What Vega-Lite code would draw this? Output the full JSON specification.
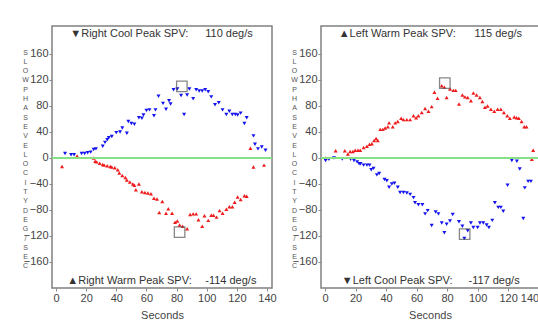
{
  "$schema": "https://vega.github.io/schema/vega-lite/v6.json",
  "background": "white",
  "padding": {"left": 20, "top": 25, "right": 0, "bottom": 0},
  "spacing": 12,
  "config": {
    "view": {"stroke": "#808080", "strokeWidth": 1.5},
    "axis": {
      "grid": false,
      "domain": false,
      "labelFont": "Liberation Sans",
      "labelFontSize": 11,
      "labelColor": "#444444",
      "labelPadding": 1,
      "tickColor": "#888888",
      "tickSize": 3,
      "titleFont": "Liberation Sans",
      "titleColor": "#444444",
      "titleFontWeight": "normal"
    },
    "axisX": {"titleFontSize": 11, "titlePadding": 6},
    "axisY": {
      "titleAngle": 0, "titleFontSize": 7, "titleLineHeight": 9.3,
      "titleX": -27, "titleY": 22, "titleAlign": "center", "titleBaseline": "top", "titleColor": "#555555"
    }
  },
  "datasets": {
    "notes": [
      {"panel": "R", "label": "▼Right Cool Peak SPV:", "value": "110 deg/s", "pos": "top"},
      {"panel": "R", "label": "▲Right Warm Peak SPV:", "value": "-114 deg/s", "pos": "bottom"},
      {"panel": "L", "label": "▲Left Warm Peak SPV:", "value": "115 deg/s", "pos": "top"},
      {"panel": "L", "label": "▼Left Cool Peak SPV:", "value": "-117 deg/s", "pos": "bottom"}
    ],
    "spv": [
      {"panel": "R", "series": "cool", "t": 6, "v": 7}, {"panel": "R", "series": "cool", "t": 10, "v": 5},
      {"panel": "R", "series": "cool", "t": 12, "v": 5}, {"panel": "R", "series": "cool", "t": 17, "v": 7},
      {"panel": "R", "series": "cool", "t": 19, "v": 7}, {"panel": "R", "series": "cool", "t": 21, "v": 8},
      {"panel": "R", "series": "cool", "t": 23, "v": 9}, {"panel": "R", "series": "cool", "t": 25, "v": 13},
      {"panel": "R", "series": "cool", "t": 26.5, "v": 14}, {"panel": "R", "series": "cool", "t": 31, "v": 18},
      {"panel": "R", "series": "cool", "t": 32.5, "v": 24}, {"panel": "R", "series": "cool", "t": 34, "v": 28},
      {"panel": "R", "series": "cool", "t": 35, "v": 31}, {"panel": "R", "series": "cool", "t": 37, "v": 33},
      {"panel": "R", "series": "cool", "t": 40, "v": 39}, {"panel": "R", "series": "cool", "t": 42.5, "v": 40},
      {"panel": "R", "series": "cool", "t": 44, "v": 46}, {"panel": "R", "series": "cool", "t": 47, "v": 38},
      {"panel": "R", "series": "cool", "t": 48, "v": 56}, {"panel": "R", "series": "cool", "t": 50, "v": 53},
      {"panel": "R", "series": "cool", "t": 52, "v": 52}, {"panel": "R", "series": "cool", "t": 55, "v": 62},
      {"panel": "R", "series": "cool", "t": 57, "v": 61}, {"panel": "R", "series": "cool", "t": 58, "v": 66},
      {"panel": "R", "series": "cool", "t": 60, "v": 73}, {"panel": "R", "series": "cool", "t": 62, "v": 74},
      {"panel": "R", "series": "cool", "t": 65, "v": 65}, {"panel": "R", "series": "cool", "t": 66, "v": 74},
      {"panel": "R", "series": "cool", "t": 68, "v": 95}, {"panel": "R", "series": "cool", "t": 71, "v": 84},
      {"panel": "R", "series": "cool", "t": 73, "v": 75}, {"panel": "R", "series": "cool", "t": 75, "v": 88},
      {"panel": "R", "series": "cool", "t": 76, "v": 83}, {"panel": "R", "series": "cool", "t": 78, "v": 105},
      {"panel": "R", "series": "cool", "t": 80.5, "v": 106}, {"panel": "R", "series": "cool", "t": 83, "v": 96},
      {"panel": "R", "series": "cool", "t": 85, "v": 67}, {"panel": "R", "series": "cool", "t": 87, "v": 97},
      {"panel": "R", "series": "cool", "t": 88.5, "v": 106}, {"panel": "R", "series": "cool", "t": 91, "v": 91},
      {"panel": "R", "series": "cool", "t": 93, "v": 105}, {"panel": "R", "series": "cool", "t": 95, "v": 103},
      {"panel": "R", "series": "cool", "t": 97, "v": 103}, {"panel": "R", "series": "cool", "t": 99, "v": 105},
      {"panel": "R", "series": "cool", "t": 101, "v": 102}, {"panel": "R", "series": "cool", "t": 103, "v": 94},
      {"panel": "R", "series": "cool", "t": 105.5, "v": 82}, {"panel": "R", "series": "cool", "t": 108, "v": 85},
      {"panel": "R", "series": "cool", "t": 110.5, "v": 74}, {"panel": "R", "series": "cool", "t": 113, "v": 67},
      {"panel": "R", "series": "cool", "t": 115, "v": 72}, {"panel": "R", "series": "cool", "t": 117, "v": 67},
      {"panel": "R", "series": "cool", "t": 119, "v": 67}, {"panel": "R", "series": "cool", "t": 120.5, "v": 66},
      {"panel": "R", "series": "cool", "t": 122.5, "v": 69}, {"panel": "R", "series": "cool", "t": 125, "v": 53},
      {"panel": "R", "series": "cool", "t": 126.5, "v": 62}, {"panel": "R", "series": "cool", "t": 131, "v": 34},
      {"panel": "R", "series": "cool", "t": 132, "v": 21}, {"panel": "R", "series": "cool", "t": 134, "v": 14},
      {"panel": "R", "series": "cool", "t": 136.5, "v": 17}, {"panel": "R", "series": "cool", "t": 139, "v": 12},

      {"panel": "R", "series": "warm", "t": 4, "v": -13}, {"panel": "R", "series": "warm", "t": 14, "v": 3},
      {"panel": "R", "series": "warm", "t": 25, "v": 0}, {"panel": "R", "series": "warm", "t": 26, "v": -5},
      {"panel": "R", "series": "warm", "t": 27, "v": -6}, {"panel": "R", "series": "warm", "t": 29, "v": -8},
      {"panel": "R", "series": "warm", "t": 31, "v": -10}, {"panel": "R", "series": "warm", "t": 32, "v": -11},
      {"panel": "R", "series": "warm", "t": 34, "v": -12}, {"panel": "R", "series": "warm", "t": 36, "v": -13},
      {"panel": "R", "series": "warm", "t": 37, "v": -14}, {"panel": "R", "series": "warm", "t": 39, "v": -15},
      {"panel": "R", "series": "warm", "t": 41, "v": -18}, {"panel": "R", "series": "warm", "t": 42, "v": -23},
      {"panel": "R", "series": "warm", "t": 44, "v": -27}, {"panel": "R", "series": "warm", "t": 46, "v": -30},
      {"panel": "R", "series": "warm", "t": 47, "v": -34}, {"panel": "R", "series": "warm", "t": 49, "v": -37},
      {"panel": "R", "series": "warm", "t": 51, "v": -40}, {"panel": "R", "series": "warm", "t": 52, "v": -42},
      {"panel": "R", "series": "warm", "t": 53, "v": -49}, {"panel": "R", "series": "warm", "t": 55, "v": -40},
      {"panel": "R", "series": "warm", "t": 57, "v": -52}, {"panel": "R", "series": "warm", "t": 59, "v": -53},
      {"panel": "R", "series": "warm", "t": 61, "v": -54}, {"panel": "R", "series": "warm", "t": 63, "v": -55},
      {"panel": "R", "series": "warm", "t": 65, "v": -62}, {"panel": "R", "series": "warm", "t": 67, "v": -63},
      {"panel": "R", "series": "warm", "t": 68.5, "v": -84}, {"panel": "R", "series": "warm", "t": 70.5, "v": -67},
      {"panel": "R", "series": "warm", "t": 73, "v": -85}, {"panel": "R", "series": "warm", "t": 74.5, "v": -78},
      {"panel": "R", "series": "warm", "t": 77, "v": -85}, {"panel": "R", "series": "warm", "t": 79, "v": -99},
      {"panel": "R", "series": "warm", "t": 80.5, "v": -97}, {"panel": "R", "series": "warm", "t": 82, "v": -103},
      {"panel": "R", "series": "warm", "t": 84, "v": -105}, {"panel": "R", "series": "warm", "t": 87, "v": -109},
      {"panel": "R", "series": "warm", "t": 89, "v": -87}, {"panel": "R", "series": "warm", "t": 91, "v": -86},
      {"panel": "R", "series": "warm", "t": 93, "v": -86}, {"panel": "R", "series": "warm", "t": 94.5, "v": -95},
      {"panel": "R", "series": "warm", "t": 97, "v": -105}, {"panel": "R", "series": "warm", "t": 98.5, "v": -89},
      {"panel": "R", "series": "warm", "t": 101, "v": -96}, {"panel": "R", "series": "warm", "t": 103, "v": -88},
      {"panel": "R", "series": "warm", "t": 104.5, "v": -88}, {"panel": "R", "series": "warm", "t": 106.5, "v": -91},
      {"panel": "R", "series": "warm", "t": 108.5, "v": -81}, {"panel": "R", "series": "warm", "t": 110.5, "v": -85},
      {"panel": "R", "series": "warm", "t": 113, "v": -79}, {"panel": "R", "series": "warm", "t": 115, "v": -75},
      {"panel": "R", "series": "warm", "t": 117, "v": -75}, {"panel": "R", "series": "warm", "t": 118.5, "v": -68},
      {"panel": "R", "series": "warm", "t": 120.5, "v": -60}, {"panel": "R", "series": "warm", "t": 122.5, "v": -64},
      {"panel": "R", "series": "warm", "t": 125, "v": -58}, {"panel": "R", "series": "warm", "t": 126.5, "v": -59},
      {"panel": "R", "series": "warm", "t": 129, "v": 15}, {"panel": "R", "series": "warm", "t": 131, "v": -14},
      {"panel": "R", "series": "warm", "t": 138, "v": -11},

      {"panel": "L", "series": "warm", "t": 0.5, "v": 0}, {"panel": "L", "series": "warm", "t": 7, "v": 11},
      {"panel": "L", "series": "warm", "t": 13, "v": 11}, {"panel": "L", "series": "warm", "t": 15, "v": 6},
      {"panel": "L", "series": "warm", "t": 16.5, "v": 10}, {"panel": "L", "series": "warm", "t": 18.3, "v": 10},
      {"panel": "L", "series": "warm", "t": 19.8, "v": 12}, {"panel": "L", "series": "warm", "t": 21.6, "v": 12},
      {"panel": "L", "series": "warm", "t": 23.1, "v": 12}, {"panel": "L", "series": "warm", "t": 25.3, "v": 16},
      {"panel": "L", "series": "warm", "t": 27.5, "v": 18}, {"panel": "L", "series": "warm", "t": 29.2, "v": 21},
      {"panel": "L", "series": "warm", "t": 30.7, "v": 22}, {"panel": "L", "series": "warm", "t": 32.2, "v": 27},
      {"panel": "L", "series": "warm", "t": 33.5, "v": 30}, {"panel": "L", "series": "warm", "t": 34.6, "v": 27},
      {"panel": "L", "series": "warm", "t": 36.2, "v": 44}, {"panel": "L", "series": "warm", "t": 37.9, "v": 44},
      {"panel": "L", "series": "warm", "t": 39.4, "v": 46}, {"panel": "L", "series": "warm", "t": 41.2, "v": 48},
      {"panel": "L", "series": "warm", "t": 42, "v": 54}, {"panel": "L", "series": "warm", "t": 44.4, "v": 48},
      {"panel": "L", "series": "warm", "t": 46, "v": 54}, {"panel": "L", "series": "warm", "t": 47.7, "v": 56},
      {"panel": "L", "series": "warm", "t": 49.9, "v": 61}, {"panel": "L", "series": "warm", "t": 51.4, "v": 59},
      {"panel": "L", "series": "warm", "t": 53.6, "v": 59}, {"panel": "L", "series": "warm", "t": 55.8, "v": 59},
      {"panel": "L", "series": "warm", "t": 58, "v": 65}, {"panel": "L", "series": "warm", "t": 59.7, "v": 62},
      {"panel": "L", "series": "warm", "t": 61.2, "v": 65}, {"panel": "L", "series": "warm", "t": 63.4, "v": 70},
      {"panel": "L", "series": "warm", "t": 65.6, "v": 76}, {"panel": "L", "series": "warm", "t": 67.8, "v": 72},
      {"panel": "L", "series": "warm", "t": 69.9, "v": 79}, {"panel": "L", "series": "warm", "t": 71.7, "v": 101},
      {"panel": "L", "series": "warm", "t": 73.7, "v": 92}, {"panel": "L", "series": "warm", "t": 76.5, "v": 111},
      {"panel": "L", "series": "warm", "t": 78.2, "v": 109}, {"panel": "L", "series": "warm", "t": 79.7, "v": 93},
      {"panel": "L", "series": "warm", "t": 81.9, "v": 106}, {"panel": "L", "series": "warm", "t": 84.1, "v": 104},
      {"panel": "L", "series": "warm", "t": 85.6, "v": 104}, {"panel": "L", "series": "warm", "t": 87.8, "v": 83},
      {"panel": "L", "series": "warm", "t": 90, "v": 97}, {"panel": "L", "series": "warm", "t": 91.7, "v": 94},
      {"panel": "L", "series": "warm", "t": 93.5, "v": 93}, {"panel": "L", "series": "warm", "t": 95.6, "v": 88},
      {"panel": "L", "series": "warm", "t": 97.2, "v": 100}, {"panel": "L", "series": "warm", "t": 99.3, "v": 97},
      {"panel": "L", "series": "warm", "t": 101.5, "v": 93}, {"panel": "L", "series": "warm", "t": 103.1, "v": 87},
      {"panel": "L", "series": "warm", "t": 104.8, "v": 78}, {"panel": "L", "series": "warm", "t": 106.5, "v": 80},
      {"panel": "L", "series": "warm", "t": 108.7, "v": 75}, {"panel": "L", "series": "warm", "t": 110.9, "v": 72},
      {"panel": "L", "series": "warm", "t": 113.1, "v": 75}, {"panel": "L", "series": "warm", "t": 115.2, "v": 75},
      {"panel": "L", "series": "warm", "t": 117.2, "v": 70}, {"panel": "L", "series": "warm", "t": 119.4, "v": 65},
      {"panel": "L", "series": "warm", "t": 121.1, "v": 61}, {"panel": "L", "series": "warm", "t": 124, "v": 63},
      {"panel": "L", "series": "warm", "t": 125.5, "v": 62}, {"panel": "L", "series": "warm", "t": 127, "v": 61},
      {"panel": "L", "series": "warm", "t": 128.8, "v": 56}, {"panel": "L", "series": "warm", "t": 130.5, "v": 48},
      {"panel": "L", "series": "warm", "t": 132, "v": 48}, {"panel": "L", "series": "warm", "t": 135.5, "v": -2},
      {"panel": "L", "series": "warm", "t": 136.4, "v": 12},

      {"panel": "L", "series": "cool", "t": 0.4, "v": -4}, {"panel": "L", "series": "cool", "t": 2.6, "v": -2},
      {"panel": "L", "series": "cool", "t": 5.9, "v": 0}, {"panel": "L", "series": "cool", "t": 11.3, "v": -1.5},
      {"panel": "L", "series": "cool", "t": 16.8, "v": -2}, {"panel": "L", "series": "cool", "t": 19, "v": -4},
      {"panel": "L", "series": "cool", "t": 21.1, "v": -6}, {"panel": "L", "series": "cool", "t": 22.4, "v": -9},
      {"panel": "L", "series": "cool", "t": 23.3, "v": -9}, {"panel": "L", "series": "cool", "t": 25.3, "v": -11},
      {"panel": "L", "series": "cool", "t": 27.5, "v": -11}, {"panel": "L", "series": "cool", "t": 29.2, "v": -11},
      {"panel": "L", "series": "cool", "t": 30.3, "v": -18}, {"panel": "L", "series": "cool", "t": 31.8, "v": -16},
      {"panel": "L", "series": "cool", "t": 34, "v": -26}, {"panel": "L", "series": "cool", "t": 35.5, "v": -24},
      {"panel": "L", "series": "cool", "t": 39, "v": -33}, {"panel": "L", "series": "cool", "t": 40.5, "v": -35},
      {"panel": "L", "series": "cool", "t": 42, "v": -45}, {"panel": "L", "series": "cool", "t": 43.8, "v": -40},
      {"panel": "L", "series": "cool", "t": 45.5, "v": -39}, {"panel": "L", "series": "cool", "t": 47.7, "v": -45},
      {"panel": "L", "series": "cool", "t": 49.2, "v": -53}, {"panel": "L", "series": "cool", "t": 51.4, "v": -53},
      {"panel": "L", "series": "cool", "t": 53.6, "v": -54}, {"panel": "L", "series": "cool", "t": 55.8, "v": -56},
      {"panel": "L", "series": "cool", "t": 58, "v": -61}, {"panel": "L", "series": "cool", "t": 59, "v": -69},
      {"panel": "L", "series": "cool", "t": 61.2, "v": -72}, {"panel": "L", "series": "cool", "t": 63.8, "v": -72},
      {"panel": "L", "series": "cool", "t": 65.6, "v": -86}, {"panel": "L", "series": "cool", "t": 67.3, "v": -81},
      {"panel": "L", "series": "cool", "t": 69.9, "v": -104}, {"panel": "L", "series": "cool", "t": 72.5, "v": -83},
      {"panel": "L", "series": "cool", "t": 74.3, "v": -86}, {"panel": "L", "series": "cool", "t": 76.5, "v": -100},
      {"panel": "L", "series": "cool", "t": 78.2, "v": -115}, {"panel": "L", "series": "cool", "t": 79.7, "v": -102},
      {"panel": "L", "series": "cool", "t": 81.9, "v": -97}, {"panel": "L", "series": "cool", "t": 83.7, "v": -87},
      {"panel": "L", "series": "cool", "t": 87.8, "v": -98}, {"panel": "L", "series": "cool", "t": 90, "v": -105},
      {"panel": "L", "series": "cool", "t": 91.3, "v": -124}, {"panel": "L", "series": "cool", "t": 93.5, "v": -112},
      {"panel": "L", "series": "cool", "t": 95.6, "v": -100}, {"panel": "L", "series": "cool", "t": 97.2, "v": -107},
      {"panel": "L", "series": "cool", "t": 100, "v": -107}, {"panel": "L", "series": "cool", "t": 101.5, "v": -100},
      {"panel": "L", "series": "cool", "t": 103.7, "v": -100}, {"panel": "L", "series": "cool", "t": 105.9, "v": -103},
      {"panel": "L", "series": "cool", "t": 107.4, "v": -107}, {"panel": "L", "series": "cool", "t": 109.6, "v": -96},
      {"panel": "L", "series": "cool", "t": 111.3, "v": -69}, {"panel": "L", "series": "cool", "t": 113.5, "v": -76},
      {"panel": "L", "series": "cool", "t": 115.2, "v": -76}, {"panel": "L", "series": "cool", "t": 116.8, "v": -82},
      {"panel": "L", "series": "cool", "t": 119.6, "v": -42}, {"panel": "L", "series": "cool", "t": 122.4, "v": -4},
      {"panel": "L", "series": "cool", "t": 125.7, "v": -5}, {"panel": "L", "series": "cool", "t": 127.6, "v": -17},
      {"panel": "L", "series": "cool", "t": 129.9, "v": -93}, {"panel": "L", "series": "cool", "t": 130.9, "v": -46},
      {"panel": "L", "series": "cool", "t": 133.1, "v": -36}, {"panel": "L", "series": "cool", "t": 134.9, "v": -36}
    ],
    "peaks": [
      {"panel": "R", "series": "cool", "t": 83.5, "v": 110},
      {"panel": "R", "series": "warm", "t": 82, "v": -114},
      {"panel": "L", "series": "warm", "t": 78.5, "v": 115},
      {"panel": "L", "series": "cool", "t": 91.5, "v": -117}
    ]
  },
  "hconcat": [
    {
      "width": 220,
      "height": 262,
      "layer": [
        {
          "data": {"name": "spv"},
          "transform": [{"filter": "datum.panel === 'R'"}],
          "mark": {"type": "point", "filled": true, "size": 16, "opacity": 1},
          "encoding": {
            "x": {"field": "t", "type": "quantitative", "title": "Seconds", "scale": {"domain": [-2.65, 143.3], "nice": false, "zero": false},
                  "axis": {"values": [0, 20, 40, 60, 80, 100, 120, 140]}},
            "y": {"field": "v", "type": "quantitative",
                  "title": ["S","L","O","W"," ","P","H","A","S","E"," ","V","E","L","O","C","I","T","Y"," ","D","E","G","/","S","E","C"],
                  "scale": {"domain": [-200, 203], "nice": false, "zero": false},
                  "axis": {"values": [-160, -120, -80, -40, 0, 40, 80, 120, 160]}},
            "color": {"field": "series", "type": "nominal", "scale": {"domain": ["cool", "warm"], "range": ["#1414ee", "#ee1c1c"]}, "legend": null},
            "shape": {"field": "series", "type": "nominal", "scale": {"domain": ["cool", "warm"], "range": ["triangle-down", "triangle-up"]}, "legend": null}
          }
        },
        {
          "data": {"name": "spv"},
          "transform": [{"filter": "datum.panel === 'R'"}, {"aggregate": [{"op": "count", "as": "n"}]}],
          "mark": {"type": "rule", "color": "#86e086", "strokeWidth": 2},
          "encoding": {"y": {"datum": 0, "type": "quantitative", "axis": {"values": [-160, -120, -80, -40, 0, 40, 80, 120, 160]}}}
        },
        {
          "data": {"name": "peaks"},
          "transform": [{"filter": "datum.panel === 'R'"}],
          "mark": {"type": "square", "filled": false, "size": 110, "stroke": "#555555", "strokeWidth": 1.3},
          "encoding": {
            "x": {"field": "t", "type": "quantitative", "axis": {"values": [0, 20, 40, 60, 80, 100, 120, 140]}},
            "y": {"field": "v", "type": "quantitative", "axis": {"values": [-160, -120, -80, -40, 0, 40, 80, 120, 160]}}
          }
        },
        {
          "data": {"name": "notes"},
          "transform": [{"filter": "datum.panel === 'R' && datum.pos === 'top'"}],
          "mark": {"type": "text", "align": "left", "baseline": "middle", "font": "Liberation Sans", "fontSize": 11, "fill": "#333333"},
          "encoding": {"text": {"field": "label"},
            "x": {"datum": 9.5, "type": "quantitative", "axis": {"values": [0, 20, 40, 60, 80, 100, 120, 140]}},
            "y": {"datum": 191, "type": "quantitative", "axis": {"values": [-160, -120, -80, -40, 0, 40, 80, 120, 160]}}}
        },
        {
          "data": {"name": "notes"},
          "transform": [{"filter": "datum.panel === 'R' && datum.pos === 'top'"}],
          "mark": {"type": "text", "align": "left", "baseline": "middle", "font": "Liberation Sans", "fontSize": 11, "fill": "#333333"},
          "encoding": {"text": {"field": "value"},
            "x": {"datum": 99, "type": "quantitative", "axis": {"values": [0, 20, 40, 60, 80, 100, 120, 140]}},
            "y": {"datum": 191, "type": "quantitative", "axis": {"values": [-160, -120, -80, -40, 0, 40, 80, 120, 160]}}}
        },
        {
          "data": {"name": "notes"},
          "transform": [{"filter": "datum.panel === 'R' && datum.pos === 'bottom'"}],
          "mark": {"type": "text", "align": "left", "baseline": "middle", "font": "Liberation Sans", "fontSize": 11, "fill": "#333333"},
          "encoding": {"text": {"field": "label"},
            "x": {"datum": 7.5, "type": "quantitative", "axis": {"values": [0, 20, 40, 60, 80, 100, 120, 140]}},
            "y": {"datum": -190, "type": "quantitative", "axis": {"values": [-160, -120, -80, -40, 0, 40, 80, 120, 160]}}}
        },
        {
          "data": {"name": "notes"},
          "transform": [{"filter": "datum.panel === 'R' && datum.pos === 'bottom'"}],
          "mark": {"type": "text", "align": "left", "baseline": "middle", "font": "Liberation Sans", "fontSize": 11, "fill": "#333333"},
          "encoding": {"text": {"field": "value"},
            "x": {"datum": 99, "type": "quantitative", "axis": {"values": [0, 20, 40, 60, 80, 100, 120, 140]}},
            "y": {"datum": -190, "type": "quantitative", "axis": {"values": [-160, -120, -80, -40, 0, 40, 80, 120, 160]}}}
        }
      ]
    },
    {
      "width": 218,
      "height": 262,
      "layer": [
        {
          "data": {"name": "spv"},
          "transform": [{"filter": "datum.panel === 'L'"}],
          "mark": {"type": "point", "filled": true, "size": 16, "opacity": 1},
          "encoding": {
            "x": {"field": "t", "type": "quantitative", "title": "Seconds", "scale": {"domain": [-2.6, 140.2], "nice": false, "zero": false},
                  "axis": {"values": [0, 20, 40, 60, 80, 100, 120, 140]}},
            "y": {"field": "v", "type": "quantitative",
                  "title": ["S","L","O","W"," ","P","H","A","S","E"," ","V","E","L","O","C","I","T","Y"," ","D","E","G","/","S","E","C"],
                  "scale": {"domain": [-200, 203], "nice": false, "zero": false},
                  "axis": {"values": [-160, -120, -80, -40, 0, 40, 80, 120, 160]}},
            "color": {"field": "series", "type": "nominal", "scale": {"domain": ["cool", "warm"], "range": ["#1414ee", "#ee1c1c"]}, "legend": null},
            "shape": {"field": "series", "type": "nominal", "scale": {"domain": ["cool", "warm"], "range": ["triangle-down", "triangle-up"]}, "legend": null}
          }
        },
        {
          "data": {"name": "spv"},
          "transform": [{"filter": "datum.panel === 'L'"}, {"aggregate": [{"op": "count", "as": "n"}]}],
          "mark": {"type": "rule", "color": "#86e086", "strokeWidth": 2},
          "encoding": {"y": {"datum": 0, "type": "quantitative", "axis": {"values": [-160, -120, -80, -40, 0, 40, 80, 120, 160]}}}
        },
        {
          "data": {"name": "peaks"},
          "transform": [{"filter": "datum.panel === 'L'"}],
          "mark": {"type": "square", "filled": false, "size": 110, "stroke": "#555555", "strokeWidth": 1.3},
          "encoding": {
            "x": {"field": "t", "type": "quantitative", "axis": {"values": [0, 20, 40, 60, 80, 100, 120, 140]}},
            "y": {"field": "v", "type": "quantitative", "axis": {"values": [-160, -120, -80, -40, 0, 40, 80, 120, 160]}}
          }
        },
        {
          "data": {"name": "notes"},
          "transform": [{"filter": "datum.panel === 'L' && datum.pos === 'top'"}],
          "mark": {"type": "text", "align": "left", "baseline": "middle", "font": "Liberation Sans", "fontSize": 11, "fill": "#333333"},
          "encoding": {"text": {"field": "label"},
            "x": {"datum": 9, "type": "quantitative", "axis": {"values": [0, 20, 40, 60, 80, 100, 120, 140]}},
            "y": {"datum": 191, "type": "quantitative", "axis": {"values": [-160, -120, -80, -40, 0, 40, 80, 120, 160]}}}
        },
        {
          "data": {"name": "notes"},
          "transform": [{"filter": "datum.panel === 'L' && datum.pos === 'top'"}],
          "mark": {"type": "text", "align": "left", "baseline": "middle", "font": "Liberation Sans", "fontSize": 11, "fill": "#333333"},
          "encoding": {"text": {"field": "value"},
            "x": {"datum": 98, "type": "quantitative", "axis": {"values": [0, 20, 40, 60, 80, 100, 120, 140]}},
            "y": {"datum": 191, "type": "quantitative", "axis": {"values": [-160, -120, -80, -40, 0, 40, 80, 120, 160]}}}
        },
        {
          "data": {"name": "notes"},
          "transform": [{"filter": "datum.panel === 'L' && datum.pos === 'bottom'"}],
          "mark": {"type": "text", "align": "left", "baseline": "middle", "font": "Liberation Sans", "fontSize": 11, "fill": "#333333"},
          "encoding": {"text": {"field": "label"},
            "x": {"datum": 11, "type": "quantitative", "axis": {"values": [0, 20, 40, 60, 80, 100, 120, 140]}},
            "y": {"datum": -190, "type": "quantitative", "axis": {"values": [-160, -120, -80, -40, 0, 40, 80, 120, 160]}}}
        },
        {
          "data": {"name": "notes"},
          "transform": [{"filter": "datum.panel === 'L' && datum.pos === 'bottom'"}],
          "mark": {"type": "text", "align": "left", "baseline": "middle", "font": "Liberation Sans", "fontSize": 11, "fill": "#333333"},
          "encoding": {"text": {"field": "value"},
            "x": {"datum": 94, "type": "quantitative", "axis": {"values": [0, 20, 40, 60, 80, 100, 120, 140]}},
            "y": {"datum": -190, "type": "quantitative", "axis": {"values": [-160, -120, -80, -40, 0, 40, 80, 120, 160]}}}
        }
      ]
    }
  ]
}
